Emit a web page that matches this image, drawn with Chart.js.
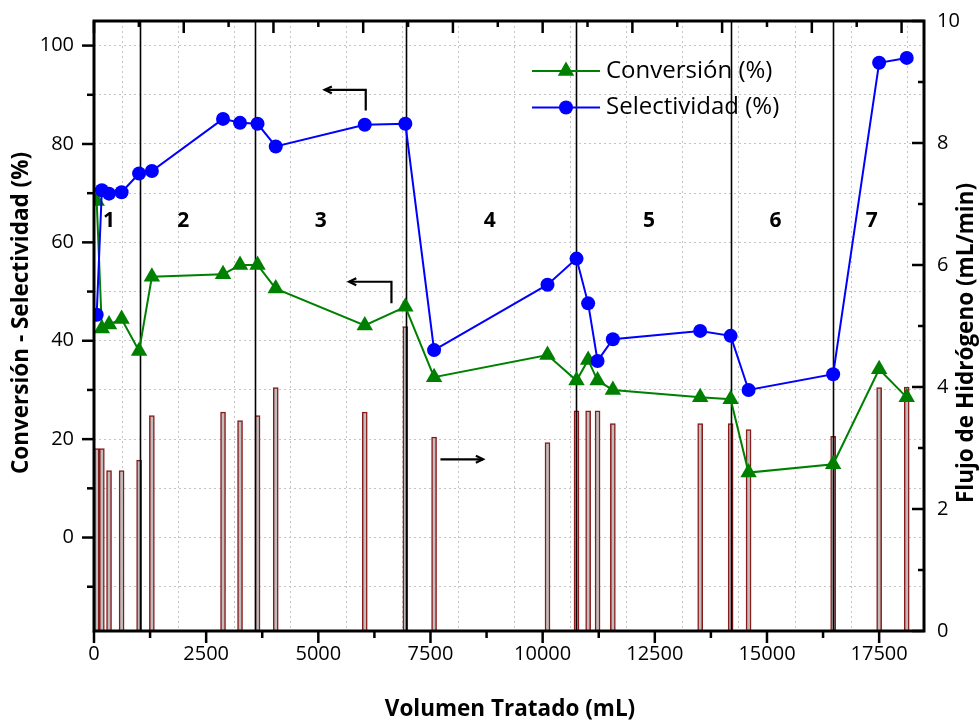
<!DOCTYPE html>
<html><head><meta charset="utf-8">
<script src="https://cdn.jsdelivr.net/npm/chart.js@4"></script>
<style>html,body{margin:0;padding:0;background:#fff}#wrap{width:980px;height:721px}</style>
</head><body><div id="wrap"><canvas id="c" width="980" height="721"></canvas></div>
<script>
// ---- data ----
const volumen      = [60, 175, 335, 615, 1005, 1290, 2876, 3255, 3645, 4051, 6035, 6940, 7580, 10108, 10755, 11014, 11224, 11565, 13511, 14190, 14590, 16475, 17500, 18115];
const conversion   = [68.4, 42.5, 43.3, 44.4, 37.9, 53.0, 53.5, 55.4, 55.4, 50.6, 43.1, 46.9, 32.6, 37.1, 31.9, 36.1, 31.9, 30.0, 28.5, 28.1, 13.2, 14.9, 34.2, 28.5];
const selectividad = [45.3, 70.6, 69.9, 70.2, 74.0, 74.5, 85.1, 84.3, 84.1, 79.5, 83.9, 84.1, 38.1, 51.4, 56.7, 47.6, 35.9, 40.3, 42.0, 41.0, 30.0, 33.2, 96.5, 97.5];
const flujoH2      = [2.99, 2.99, 2.63, 2.63, 2.80, 3.53, 3.59, 3.45, 3.53, 3.99, 3.59, 4.99, 3.18, 3.09, 3.61, 3.61, 3.61, 3.40, 3.40, 3.40, 3.30, 3.19, 3.99, 4.00];
const divisiones   = [1035, 3590, 6950, 10735, 14195, 16475];
const etapas       = ['1', '2', '3', '4', '5', '6', '7'];
const etapasX      = [334, 1991, 5055, 8823, 12368, 15190, 17337];
const etapasY      = 64.3;
// tick values of the axes
const xTicks  = [0, 1250, 2500, 3750, 5000, 6250, 7500, 8750, 10000, 11250, 12500, 13750, 15000, 16250, 17500];
const xTopTicks = [0, 1000, 2000, 3000, 4000, 5000, 6000, 7000, 8000, 9000, 10000, 11000, 12000, 13000, 14000, 15000, 16000, 17000, 18000];
const yTicks  = [-10, 0, 10, 20, 30, 40, 50, 60, 70, 80, 90, 100];
const y1Ticks = [0, 1, 2, 3, 4, 5, 6, 7, 8, 9, 10];
// arrows (data coords: [x, leftY]) — last point is the tip
const flechas = [
  [[6057, 86.8], [6057, 91.0], [5141, 91.0]],
  [[6630, 47.6], [6630, 52.0], [5685, 52.0]],
  [[7722, 15.9], [8672, 15.9]]
];
const serieNombres = ['Conversión (%)', 'Selectividad (%)'];
const xTitulo = 'Volumen Tratado (mL)';
const yTitulo = 'Conversión - Selectividad (%)';
const y1Titulo = 'Flujo de Hidrógeno (mL/min)';

const FONT = '"Open Sans", Lato, sans-serif';
const GREEN = '#008000', BLUE = '#0000FF';

const pts = (ys) => volumen.map((x, i) => ({x, y: ys[i]}));

const overlay = {
  id: 'overlay',
  afterDatasetDraw(chart, args) {
    if (args.index !== 0) return;
    const {ctx, chartArea: a, scales: {x}} = chart;
    ctx.save();
    ctx.strokeStyle = '#000'; ctx.lineWidth = 1.6;
    divisiones.forEach(v => {
      const px = Math.round(x.getPixelForValue(v)) + 0.5;
      ctx.beginPath(); ctx.moveTo(px, a.top); ctx.lineTo(px, a.bottom); ctx.stroke();
    });
    ctx.restore();
  },
  afterDraw(chart) {
    const {ctx, chartArea: a, scales: {x, y, y1}} = chart;
    ctx.save();
    // ticks
    ctx.strokeStyle = '#000'; ctx.lineWidth = 2.5;
    const seg = (x1, y1_, x2, y2) => { ctx.beginPath(); ctx.moveTo(x1, y1_); ctx.lineTo(x2, y2); ctx.stroke(); };
    yTicks.forEach(v => {
      const p = y.getPixelForValue(v); const L = v % 20 === 0 ? 12 : 7;
      seg(a.left - L, p, a.left, p);
    });
    y1Ticks.forEach(v => {
      const p = y1.getPixelForValue(v); const L = v % 2 === 0 ? 12 : 6;
      seg(a.right - L, p, a.right, p);
    });
    xTicks.forEach(v => {
      const p = x.getPixelForValue(v); const L = v % 2500 === 0 ? 12 : 7;
      seg(p, a.bottom, p, a.bottom + L);
    });
    xTopTicks.forEach(v => {
      const p = x.getPixelForValue(v); const L = v % 2000 === 0 ? 12 : 6;
      seg(p, a.top, p, a.top + L);
    });
    // frame
    ctx.lineWidth = 3;
    ctx.strokeRect(a.left, a.top, a.right - a.left, a.bottom - a.top);

    // section numbers
    ctx.fillStyle = '#000';
    ctx.font = 'bold 21px ' + FONT;
    ctx.textAlign = 'center'; ctx.textBaseline = 'middle';
    etapas.forEach((t, i) => ctx.fillText(t, x.getPixelForValue(etapasX[i]), y.getPixelForValue(etapasY)));

    // arrows
    ctx.lineWidth = 2.2; ctx.lineCap = 'butt';
    flechas.forEach(f => {
      const P = f.map(([vx, vy]) => [x.getPixelForValue(vx), y.getPixelForValue(vy)]);
      ctx.beginPath(); ctx.moveTo(P[0][0], P[0][1]);
      for (let i = 1; i < P.length; i++) ctx.lineTo(P[i][0], P[i][1]);
      ctx.stroke();
      const [tx, ty] = P[P.length - 1], [sx, sy] = P[P.length - 2];
      const ang = Math.atan2(ty - sy, tx - sx), h = 8, w = 0.45;
      ctx.beginPath();
      ctx.moveTo(tx - h * Math.cos(ang - w), ty - h * Math.sin(ang - w));
      ctx.lineTo(tx, ty);
      ctx.lineTo(tx - h * Math.cos(ang + w), ty - h * Math.sin(ang + w));
      ctx.stroke();
    });

    // axis titles
    ctx.textAlign = 'center'; ctx.textBaseline = 'middle';
    ctx.font = 'bold 22.5px ' + FONT;
    ctx.fillText(xTitulo, 510, 710);
    ctx.save(); ctx.translate(22, 313); ctx.rotate(-Math.PI / 2); ctx.fillText(yTitulo, 0, 0); ctx.restore();
    ctx.save(); ctx.translate(967, 343); ctx.rotate(-Math.PI / 2); ctx.fillText(y1Titulo, 0, 0); ctx.restore();

    // legend
    const leg = [{c: GREEN, s: 'triangle', yy: 71, t: serieNombres[0]}, {c: BLUE, s: 'circle', yy: 107.5, t: serieNombres[1]}];
    ctx.font = '24px ' + FONT; ctx.textAlign = 'left';
    leg.forEach(L => {
      ctx.strokeStyle = L.c; ctx.lineWidth = 1.8;
      seg(532, L.yy, 600, L.yy);
      ctx.fillStyle = L.c;
      if (L.s === 'circle') { ctx.beginPath(); ctx.arc(566, L.yy, 7, 0, Math.PI * 2); ctx.fill(); }
      else {
        const r = 9.5; ctx.beginPath();
        ctx.moveTo(566, L.yy - r); ctx.lineTo(566 + r * 0.866, L.yy + r / 2); ctx.lineTo(566 - r * 0.866, L.yy + r / 2);
        ctx.closePath(); ctx.fill();
      }
      ctx.fillStyle = '#000';
      ctx.fillText(L.t, 606, L.yy);
    });
    ctx.restore();
  }
};

const gridCommon = {color: '#c4c4c4', lineWidth: 1, drawTicks: false};
const borderCommon = {display: false, dash: [2, 3]};
const tickFont = {family: FONT, size: 20};
const setTicks = (vals) => (s) => { s.ticks = vals.map(v => ({value: v})); };
const noPad = (w, h) => (s) => {
  if (w !== null) s.width = w;
  if (h !== null) s.height = h;
  s.paddingTop = 0; s.paddingBottom = 0; s.paddingLeft = 0; s.paddingRight = 0;
};

new Chart(document.getElementById('c'), {
  type: 'line',
  data: {
    datasets: [
      {type: 'bar', label: 'Flujo', data: pts(flujoH2), yAxisID: 'y1', xAxisID: 'x',
       backgroundColor: '#BEBEBE', borderColor: '#8B1A1A', borderWidth: 1.5, barThickness: 5, order: 3, grouped: false},
      {label: serieNombres[0], data: pts(conversion), yAxisID: 'y', borderColor: GREEN, backgroundColor: GREEN,
       borderWidth: 2, pointStyle: 'triangle', pointRadius: 9.5, pointBorderWidth: 0, tension: 0, order: 2},
      {label: serieNombres[1], data: pts(selectividad), yAxisID: 'y', borderColor: BLUE, backgroundColor: BLUE,
       borderWidth: 2, pointStyle: 'circle', pointRadius: 7, pointBorderWidth: 0, tension: 0, order: 1}
    ]
  },
  options: {
    responsive: false, animation: false, devicePixelRatio: 1,
    layout: {padding: {top: 21, left: 0, right: 0, bottom: 0}},
    plugins: {legend: {display: false}, tooltip: {enabled: false}},
    scales: {
      x: {type: 'linear', position: 'bottom', min: 0, max: 18500, offset: false,
          grid: gridCommon, border: borderCommon,
          ticks: {autoSkip: false, maxRotation: 0, minRotation: 0, padding: 11, color: '#000', font: tickFont,
                  callback: v => (v % 2500 === 0 ? String(v) : '')},
          afterBuildTicks: setTicks(xTicks),
          afterFit: noPad(null, 90)},
      y: {type: 'linear', position: 'left', min: -19, max: 105,
          grid: gridCommon, border: borderCommon,
          ticks: {autoSkip: false, padding: 20, color: '#000', font: tickFont,
                  callback: v => (v % 20 === 0 ? String(v) : '')},
          afterBuildTicks: setTicks(yTicks),
          afterFit: noPad(94, null)},
      y1: {type: 'linear', position: 'right', min: 0, max: 10,
          grid: {display: false, drawTicks: false}, border: {display: false},
          ticks: {autoSkip: false, padding: 13, color: '#000', font: tickFont,
                  callback: v => (v % 2 === 0 ? String(v) : '')},
          afterBuildTicks: setTicks(y1Ticks),
          afterFit: noPad(56, null)}
    }
  },
  plugins: [overlay]
});
</script></body></html>
